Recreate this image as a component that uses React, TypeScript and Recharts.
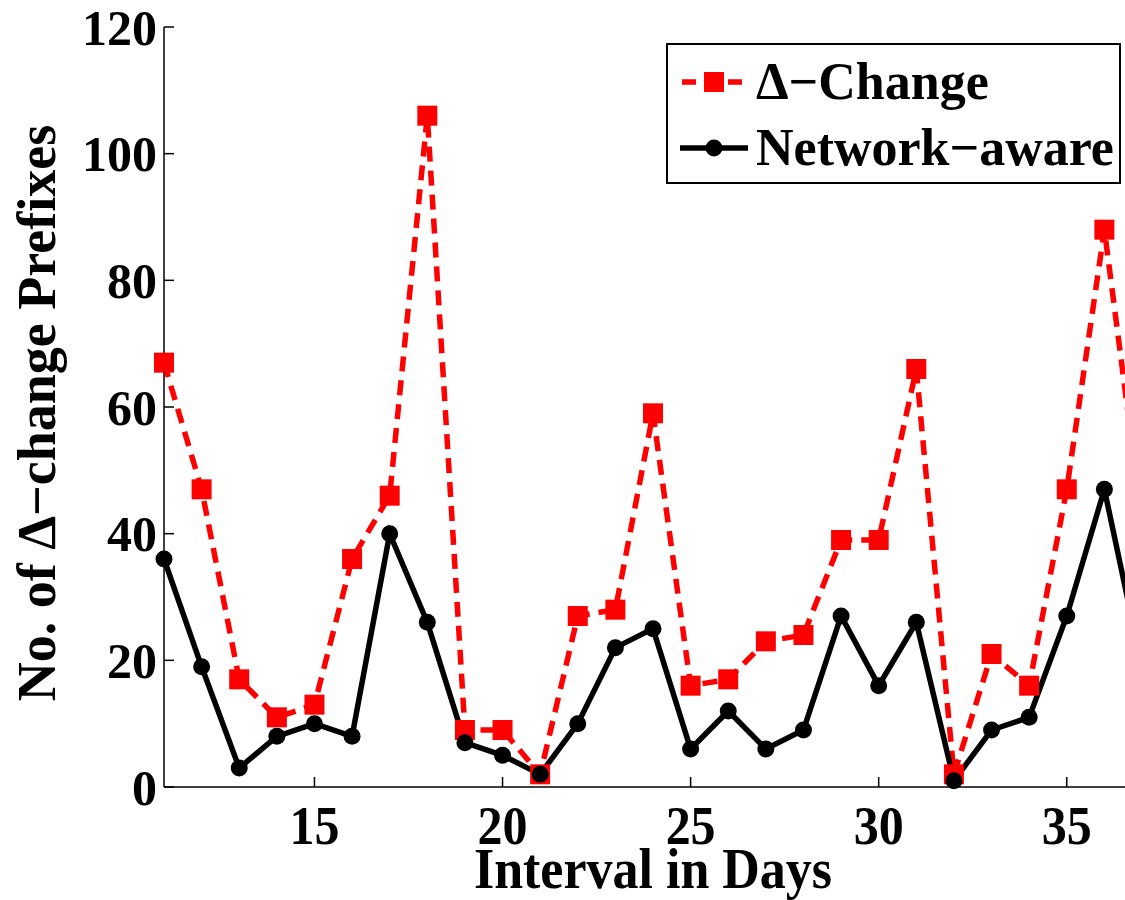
import React from 'react';
import { LineChart, Line, XAxis, YAxis } from 'recharts';

const days = [11, 12, 13, 14, 15, 16, 17, 18, 19, 20, 21, 22, 23, 24, 25, 26, 27, 28, 29, 30, 31, 32, 33, 34, 35, 36, 37];
const deltaChange = [67, 47, 17, 11, 13, 36, 46, 106, 9, 9, 2, 27, 28, 59, 16, 17, 23, 24, 39, 39, 66, 2, 21, 16, 47, 88, 42];
const networkAware = [36, 19, 3, 8, 10, 8, 40, 26, 7, 5, 2, 10, 22, 25, 6, 12, 6, 9, 27, 16, 26, 1, 9, 11, 27, 47, 19];
const xTicks = [15, 20, 25, 30, 35];
const yTicks = [0, 20, 40, 60, 80, 100, 120];

const FONT = '"Liberation Serif", "Times New Roman", serif';

const data = days.map((d, i) => ({ day: d, delta: deltaChange[i], net: networkAware[i] }));

function BottomTick({ x, y, payload }: any) {
  return (
    <g>
      <line x1={x} y1={y} x2={x} y2={y - 10} stroke="#000" strokeWidth={1.5} />
      <text
        transform={`translate(${x},${y + 57}) scale(1,1.1)`}
        textAnchor="middle"
        fontFamily={FONT}
        fontWeight="bold"
        fontSize={50}
        fill="#000"
      >
        {payload.value}
      </text>
    </g>
  );
}

function TopTick({ x, y }: any) {
  return <line x1={x} y1={y} x2={x} y2={y + 10} stroke="#000" strokeWidth={1.5} />;
}

function LeftTick({ x, y, payload }: any) {
  return (
    <g>
      <line x1={x} y1={y} x2={x + 10} y2={y} stroke="#000" strokeWidth={1.5} />
      <text x={x - 7} y={y} dy="0.35em" textAnchor="end" fontFamily={FONT} fontWeight="bold" fontSize={50} fill="#000">
        {payload.value}
      </text>
    </g>
  );
}

function XLabel({ viewBox }: any) {
  const cx = viewBox.x + viewBox.width / 2;
  const base = viewBox.y + 101;
  return (
    <text
      transform={`translate(${cx},${base}) scale(1,1.1)`}
      textAnchor="middle"
      fontFamily={FONT}
      fontWeight="bold"
      fontSize={52}
      fill="#000"
    >
      Interval in Days
    </text>
  );
}

function YLabel() {
  return (
    <text
      transform="translate(55,413) rotate(-90)"
      textAnchor="middle"
      fontFamily={FONT}
      fontWeight="bold"
      fontSize={54}
      fill="#000"
    >
      No. of Δ−change Prefixes
    </text>
  );
}

function SquareDot({ cx, cy }: any) {
  if (cx == null || cy == null) return null;
  return <rect x={cx - 10} y={cy - 10} width={20} height={20} fill="#ff0000" />;
}

function CircleDot({ cx, cy }: any) {
  if (cx == null || cy == null) return null;
  return <circle cx={cx} cy={cy} r={8.5} fill="#000" />;
}

function LegendBox() {
  const rowStyle: React.CSSProperties = { display: 'flex', alignItems: 'center', height: 66 };
  const textStyle: React.CSSProperties = {
    fontFamily: FONT,
    fontWeight: 'bold',
    fontSize: 52,
    lineHeight: '60px',
    color: '#000',
    marginLeft: 8,
    whiteSpace: 'nowrap',
  };
  return (
    <div
      style={{
        position: 'absolute',
        left: 666,
        top: 43,
        border: '2px solid #000',
        background: '#fff',
        width: 455,
        height: 141,
        boxSizing: 'border-box',
        padding: '4px 0 0 12px',
      }}
    >
      <div style={rowStyle}>
        <svg width={68} height={30}>
          <line x1={0} y1={15} x2={68} y2={15} stroke="#ff0000" strokeWidth={5.5} strokeDasharray="14 9" strokeDashoffset={-2} />
          <rect x={24} y={5} width={20} height={20} fill="#ff0000" />
        </svg>
        <span style={textStyle}>Δ−Change</span>
      </div>
      <div style={rowStyle}>
        <svg width={68} height={30}>
          <line x1={0} y1={15} x2={68} y2={15} stroke="#000" strokeWidth={5.5} />
          <circle cx={34} cy={15} r={8.5} fill="#000" />
        </svg>
        <span style={textStyle}>Network−aware</span>
      </div>
    </div>
  );
}

export default function App() {
  return (
    <div style={{ position: 'absolute', left: 0, top: 0, width: 1125, height: 900, overflow: 'hidden', background: '#fff' }}>
      <LineChart width={1162} height={900} data={data} margin={{ top: 27, right: 20, left: 0, bottom: 0 }}>
        <XAxis
          dataKey="day"
          type="number"
          domain={[11, 37]}
          ticks={xTicks}
          tickLine={false}
          tickSize={0}
          tickMargin={0}
          tick={<BottomTick />}
          axisLine={{ stroke: '#000', strokeWidth: 1.5 }}
          height={113}
          label={<XLabel />}
        />
        <XAxis
          xAxisId="top"
          orientation="top"
          dataKey="day"
          type="number"
          domain={[11, 37]}
          ticks={xTicks}
          tickLine={false}
          tickSize={0}
          tickMargin={0}
          tick={<TopTick />}
          axisLine={{ stroke: '#000', strokeWidth: 1.5 }}
          height={0}
        />
        <YAxis
          type="number"
          domain={[0, 120]}
          ticks={yTicks}
          tickLine={false}
          tickSize={0}
          tickMargin={0}
          tick={<LeftTick />}
          axisLine={{ stroke: '#000', strokeWidth: 1.5 }}
          width={164}
          label={<YLabel />}
        />
        <Line
          dataKey="delta"
          stroke="#ff0000"
          strokeWidth={5.5}
          strokeDasharray="15 9"
          dot={<SquareDot />}
          activeDot={false}
          isAnimationActive={false}
        />
        <Line
          dataKey="net"
          stroke="#000"
          strokeWidth={5.5}
          dot={<CircleDot />}
          activeDot={false}
          isAnimationActive={false}
        />
      </LineChart>
      <LegendBox />
    </div>
  );
}
